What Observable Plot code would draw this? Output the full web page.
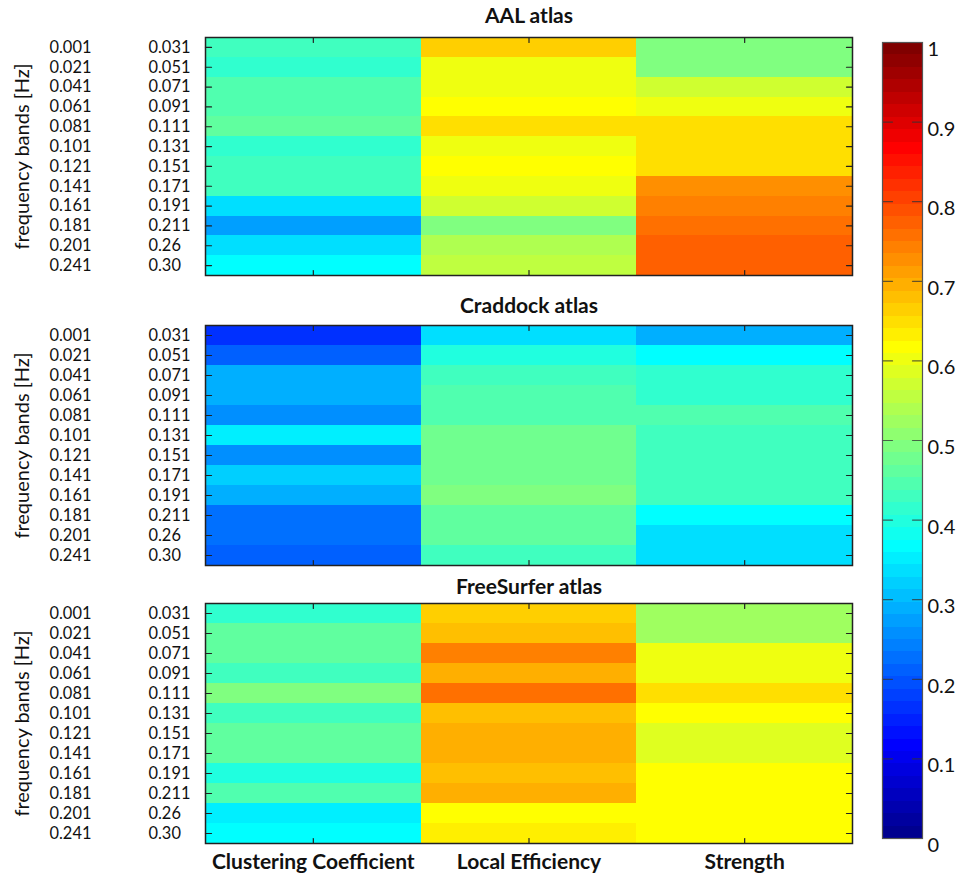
<!DOCTYPE html>
<html>
<head>
<meta charset="utf-8">
<script src="https://cdn.jsdelivr.net/npm/d3@7"></script>
<script src="https://cdn.jsdelivr.net/npm/@observablehq/plot@0.6"></script>
<style>
  html, body { margin: 0; padding: 0; background: #fff; }
  #chart { position: relative; width: 960px; height: 879px; background: #fff; }
  #chart svg { position: absolute; }
</style>
</head>
<body>
<div id="chart"></div>
<script>
// Network measures per frequency band for three brain atlases (values in [0, 1]).
const atlases = ["AAL atlas", "Craddock atlas", "FreeSurfer atlas"];
const measures = ["Clustering Coefficient", "Local Efficiency", "Strength"];
const bandLow  = ["0.001", "0.021", "0.041", "0.061", "0.081", "0.101", "0.121", "0.141", "0.161", "0.181", "0.201", "0.241"];
const bandHigh = ["0.031", "0.051", "0.071", "0.091", "0.111", "0.131", "0.151", "0.171", "0.191", "0.211", "0.26", "0.30"];
const yLabel = "frequency bands [Hz]";

const aalClustering  = [0.43, 0.415, 0.445, 0.445, 0.46, 0.415, 0.43, 0.43, 0.336, 0.27, 0.33, 0.37];
const aalEfficiency  = [0.66, 0.595, 0.595, 0.617, 0.645, 0.595, 0.617, 0.595, 0.567, 0.495, 0.54, 0.56];
const aalStrength    = [0.49, 0.49, 0.565, 0.595, 0.655, 0.655, 0.655, 0.73, 0.748, 0.765, 0.78, 0.77];

const craddockClustering = [0.165, 0.21, 0.285, 0.285, 0.255, 0.35, 0.255, 0.325, 0.285, 0.22, 0.22, 0.21];
const craddockEfficiency = [0.33, 0.405, 0.43, 0.445, 0.445, 0.47, 0.47, 0.47, 0.488, 0.46, 0.46, 0.43];
const craddockStrength   = [0.285, 0.37, 0.415, 0.415, 0.445, 0.43, 0.43, 0.43, 0.43, 0.372, 0.34, 0.34];

const freesurferClustering = [0.415, 0.46, 0.46, 0.43, 0.488, 0.43, 0.46, 0.46, 0.395, 0.445, 0.355, 0.365];
const freesurferEfficiency = [0.66, 0.685, 0.742, 0.7, 0.75, 0.685, 0.7, 0.7, 0.672, 0.7, 0.617, 0.64];
const freesurferStrength   = [0.53, 0.53, 0.595, 0.595, 0.655, 0.617, 0.58, 0.58, 0.617, 0.617, 0.617, 0.617];

const colorTicks = [0, 0.1, 0.2, 0.3, 0.4, 0.5, 0.6, 0.7, 0.8, 0.9, 1];
const colorTickLabels = ["0", "0.1", "0.2", "0.3", "0.4", "0.5", "0.6", "0.7", "0.8", "0.9", "1"];

// 64-level "jet" colormap
const N_LEVELS = 64;
function jetLevel(i) { // i = 1..64
  const u = k => (k < 1 || k > 47) ? 0 : k <= 16 ? k / 16 : k <= 31 ? 1 : (48 - k) / 16;
  return d3.rgb(u(i - 24) * 255, u(i - 8) * 255, u(i + 8) * 255).formatHex();
}
const colorScale = {
  type: "threshold",
  domain: d3.range(1, N_LEVELS).map(k => k / N_LEVELS),
  range: d3.range(1, N_LEVELS + 1).map(jetLevel)
};

const bands = bandLow.map((d, i) => `${d}-${bandHigh[i]}`);
function table(series) {
  return series.flatMap((values, m) => values.map((value, b) => ({measure: measures[m], band: bands[b], value})));
}
const panels = [
  {title: atlases[0], cells: table([aalClustering, aalEfficiency, aalStrength])},
  {title: atlases[1], cells: table([craddockClustering, craddockEfficiency, craddockStrength])},
  {title: atlases[2], cells: table([freesurferClustering, freesurferEfficiency, freesurferStrength])}
];

const FONT = "Lato, 'Open Sans', sans-serif";
const INK = "#111";

// Short inward tick marks drawn as vectors (no text)
const tickDown = {draw(context, l) { context.moveTo(0, 0); context.lineTo(0, l); }};
const tickUp = {draw(context, l) { context.moveTo(0, 0); context.lineTo(0, -l); }};
const tickRight = {draw(context, l) { context.moveTo(0, 0); context.lineTo(l, 0); }};
const tickLeft = {draw(context, l) { context.moveTo(0, 0); context.lineTo(-l, 0); }};
const tickStyle = {stroke: "#222", strokeWidth: 1.2, anchor: "start"};

function heatmap({title, cells}, {top, marginTop, marginBottom, frameHeight, titleY, xLabels}) {
  const svg = Plot.plot({
    width: 860,
    height: marginTop + frameHeight + marginBottom,
    marginLeft: 205,
    marginRight: 8,
    marginTop,
    marginBottom,
    x: {type: "band", domain: measures, padding: 0, round: false, axis: null, label: null},
    y: {type: "band", domain: bands, padding: 0, round: false, axis: null, label: null},
    color: colorScale,
    style: {fontFamily: FONT, fontSize: "17px", color: INK, background: "transparent", overflow: "visible"},
    marks: [
      Plot.cell(cells, {x: "measure", y: "band", fill: "value", inset: 0, shapeRendering: "crispEdges"}),
      Plot.vector(measures, {x: d => d, frameAnchor: "top", length: 5, shape: tickDown, ...tickStyle}),
      Plot.vector(measures, {x: d => d, frameAnchor: "bottom", length: 5, shape: tickUp, ...tickStyle}),
      Plot.vector(bands, {y: d => d, frameAnchor: "left", length: 6, shape: tickRight, ...tickStyle}),
      Plot.vector(bands, {y: d => d, frameAnchor: "right", length: 6, shape: tickLeft, ...tickStyle}),
      Plot.frame({stroke: "#222", strokeWidth: 1.5}),
      Plot.text(bandLow, {y: (d, i) => bands[i], text: d => d, frameAnchor: "left", dx: -156, textAnchor: "start", lineAnchor: "middle", fontSize: 16.4, letterSpacing: 1.1, fill: INK}),
      Plot.text(bandHigh, {y: (d, i) => bands[i], text: d => d, frameAnchor: "left", dx: -57, textAnchor: "start", lineAnchor: "middle", fontSize: 16.4, letterSpacing: 1.1, fill: INK}),
      Plot.text([yLabel], {frameAnchor: "left", dx: -183, rotate: -90, textAnchor: "middle", lineAnchor: "middle", fontSize: 20, fill: INK}),
      Plot.text([title], {frameAnchor: "top", dy: titleY, textAnchor: "middle", lineAnchor: "middle", fontSize: 21, fontWeight: "bold", fill: INK}),
      xLabels ? Plot.text(measures, {x: d => d, frameAnchor: "bottom", dy: 19, textAnchor: "middle", lineAnchor: "middle", fontSize: 21, fontWeight: "bold", fill: INK}) : null
    ]
  });
  svg.style.left = "0px";
  svg.style.top = `${top}px`;
  return svg;
}

const chart = document.getElementById("chart");
chart.appendChild(heatmap(panels[0], {top: 0,   marginTop: 37, frameHeight: 238, marginBottom: 15, titleY: -21}));
chart.appendChild(heatmap(panels[1], {top: 290, marginTop: 35, frameHeight: 240, marginBottom: 10, titleY: -19}));
chart.appendChild(heatmap(panels[2], {top: 575, marginTop: 28, frameHeight: 240, marginBottom: 36, titleY: -16, xLabels: true}));

// Colorbar
const levels = d3.range(N_LEVELS);
const innerTicks = colorTicks.slice(1, -1);
const barTickStyle = {stroke: "#333", strokeOpacity: 0.75, strokeWidth: 1.2, anchor: "start", length: 10};
const colorbar = Plot.plot({
  width: 100,
  height: 879,
  marginLeft: 22,
  marginRight: 38,
  marginTop: 42,
  marginBottom: 41,
  x: {axis: null},
  y: {domain: [0, 1], axis: null, label: null},
  color: colorScale,
  style: {fontFamily: FONT, fontSize: "20px", color: INK, background: "transparent", overflow: "visible"},
  marks: [
    Plot.rect(levels, {y1: i => i / N_LEVELS, y2: i => (i + 1) / N_LEVELS, fill: i => (i + 0.5) / N_LEVELS, shapeRendering: "crispEdges"}),
    Plot.vector(innerTicks, {y: d => d, frameAnchor: "left", shape: tickRight, ...barTickStyle}),
    Plot.vector(innerTicks, {y: d => d, frameAnchor: "right", shape: tickLeft, ...barTickStyle}),
    Plot.text(colorTicks, {y: d => d, text: (d, i) => colorTickLabels[i], frameAnchor: "right", dx: 5, dy: 7, textAnchor: "start", lineAnchor: "middle", fontSize: 20, fill: INK}),
    Plot.frame({stroke: "#555", strokeWidth: 1.2})
  ]
});
colorbar.style.left = "860px";
colorbar.style.top = "0px";
chart.appendChild(colorbar);
</script>
</body>
</html>
